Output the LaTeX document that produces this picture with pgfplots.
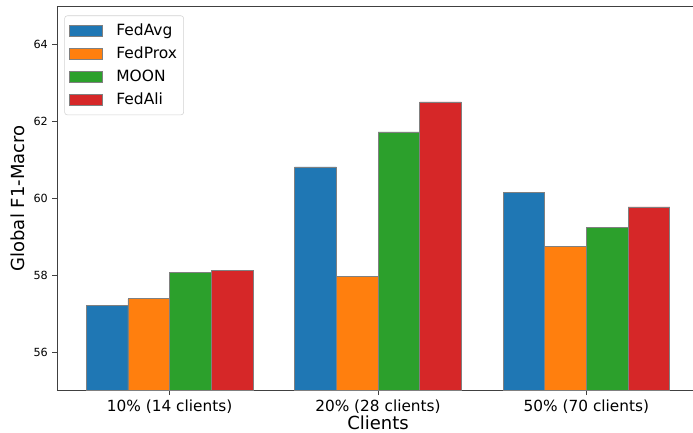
\documentclass[border=0pt]{standalone}
\usepackage{pgfplots}
\pgfplotsset{compat=1.18}
\usepackage{fontspec}
\setmainfont{DejaVu Sans}

\definecolor{tabblue}{HTML}{1F77B4}
\definecolor{taborange}{HTML}{FF7F0E}
\definecolor{tabgreen}{HTML}{2CA02C}
\definecolor{tabred}{HTML}{D62728}
\definecolor{spine}{HTML}{404040}

\begin{document}
\begin{tikzpicture}
% page frame: the plot area runs on past the right edge
\useasboundingbox (-42.75pt,-31.7pt) rectangle (477pt,293pt);
\begin{axis}[
  at={(0,0)}, anchor=south west,
  scale only axis,
  width=481.5pt, height=288.3pt,
  ybar, bar width=0.2,
  xmin=-0.54, xmax=2.54,
  ymin=55, ymax=65,
  xtick={0,1,2},
  xticklabels={10\% (14 clients), 20\% (28 clients), 50\% (70 clients)},
  ytick={56,58,60,62,64},
  axis x line*=bottom, axis y line*=left,
  xtick pos=bottom, ytick pos=left,
  tick align=outside,
  major tick length=3.4pt,
  tick style={spine, line width=0.6pt},
  axis line style={spine, line width=0.6pt},
  /pgf/number format/assume math mode=true,
  yticklabel style={font=\fontsize{8.4}{10}\selectfont},
  xticklabel style={font=\fontsize{11.5}{13}\selectfont},
  xlabel={Clients},
  ylabel={Global F1-Macro},
  xlabel style={font=\fontsize{13.5}{15}\selectfont, yshift=5.5pt},
  ylabel style={font=\fontsize{13.5}{15}\selectfont},
  legend style={at={(0.0115,0.976)}, anchor=north west,
    font=\fontsize{11.6}{13.5}\selectfont,
    draw=gray!35, rounded corners=2pt, fill=white,
    inner xsep=3pt, inner ysep=4pt,
    row sep=3.1pt},
  legend cell align=left,
  legend image code/.code={%
    \draw[#1, sharp corners] (0pt,-4.1pt) rectangle (25pt,4.1pt);
    \path (33.3pt,0pt);},
  every axis plot/.append style={draw=gray, line width=0.5pt},
]
\addplot[fill=tabblue, bar shift=-0.3] coordinates {(0,57.21) (1,60.82) (2,60.16)};
\addplot[fill=taborange, bar shift=-0.1] coordinates {(0,57.39) (1,57.97) (2,58.75)};
\addplot[fill=tabgreen, bar shift=0.1] coordinates {(0,58.08) (1,61.73) (2,59.25)};
\addplot[fill=tabred, bar shift=0.3] coordinates {(0,58.12) (1,62.51) (2,59.78)};
\legend{FedAvg, FedProx, MOON, FedAli}
% top frame line
\draw[spine, line width=0.6pt] (rel axis cs:0,1) -- (rel axis cs:1,1);
\end{axis}
\end{tikzpicture}
\end{document}
